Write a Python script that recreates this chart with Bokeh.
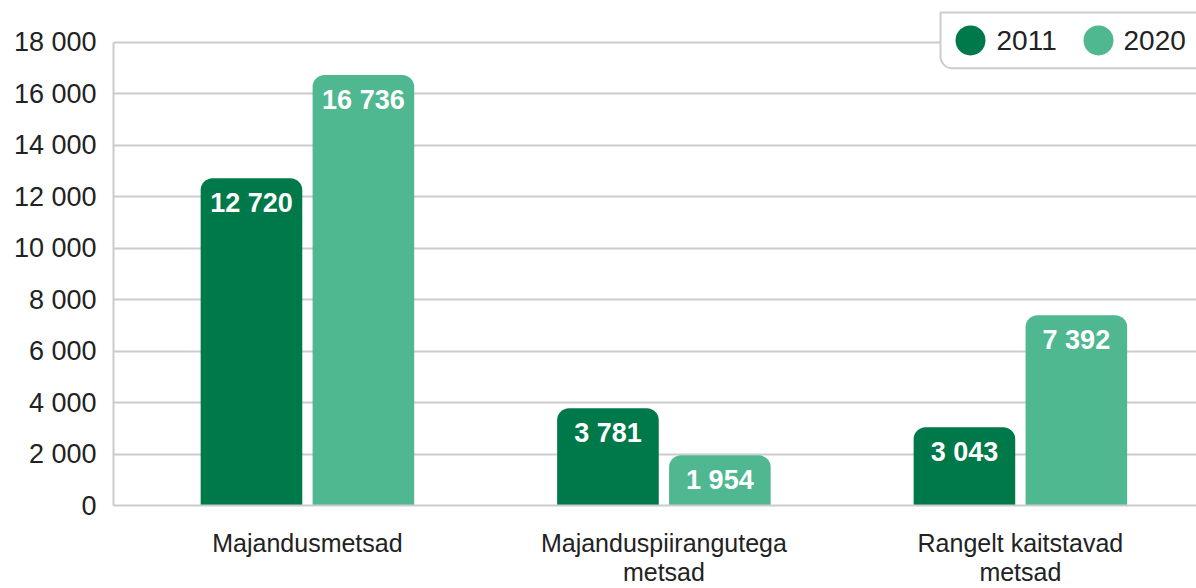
from bokeh.plotting import figure
from bokeh.models import Range1d, FixedTicker, ColumnDataSource
from bokeh.core.properties import value
from bokeh.embed import file_html
from bokeh.resources import INLINE

categories = ["Majandusmetsad", "Majanduspiirangutega\nmetsad", "Rangelt kaitstavad\nmetsad"]
years = ["2011", "2020"]
values_2011 = [12720, 3781, 3043]
values_2020 = [16736, 1954, 7392]
y_ticks = [0, 2000, 4000, 6000, 8000, 10000, 12000, 14000, 16000, 18000]
y_tick_labels = ["0", "2 000", "4 000", "6 000", "8 000", "10 000", "12 000", "14 000", "16 000", "18 000"]

COLOR_2011 = "#00794A"
COLOR_2020 = "#50B891"
TEXT = "#222222"
GRID = "#cccccc"
FONT = "Liberation Sans"

def fmt(v):
    return f"{v:,}".replace(",", " ")

idx = list(range(len(categories)))
off = 0.157
src11 = ColumnDataSource(dict(x=[i - off for i in idx], top=values_2011, lab=[fmt(v) for v in values_2011]))
src20 = ColumnDataSource(dict(x=[i + off for i in idx], top=values_2020, lab=[fmt(v) for v in values_2020]))

p = figure(width=1196, height=588, x_range=Range1d(-0.544, 2.494), y_range=Range1d(0, 19629),
           output_backend="svg", toolbar_location=None,
           min_border_left=113, min_border_right=0, min_border_top=0, min_border_bottom=82)
p.outline_line_color = None
p.background_fill_color = "white"
p.border_fill_color = "white"

# x axis
p.xaxis.ticker = FixedTicker(ticks=idx)
p.xaxis.major_label_overrides = {i: c for i, c in zip(idx, categories)}
p.xaxis.major_tick_in = 0
p.xaxis.major_tick_out = 0
p.xaxis.minor_tick_in = 0
p.xaxis.minor_tick_out = 0
p.xaxis.axis_line_color = GRID
p.xaxis.axis_line_width = 2
p.xaxis.major_label_text_font = FONT
p.xaxis.major_label_text_font_size = "25px"
p.xaxis.major_label_text_color = TEXT
p.xaxis.major_label_standoff = 23
p.xaxis.major_label_text_line_height = 1.05

# y axis
p.yaxis.ticker = FixedTicker(ticks=y_ticks)
p.yaxis.major_label_overrides = {t: l for t, l in zip(y_ticks, y_tick_labels)}
p.yaxis.bounds = (0, 18000)
p.yaxis.major_tick_in = 0
p.yaxis.major_tick_out = 0
p.yaxis.minor_tick_in = 0
p.yaxis.minor_tick_out = 0
p.yaxis.axis_line_color = GRID
p.yaxis.axis_line_width = 2
p.yaxis.major_label_text_font = FONT
p.yaxis.major_label_text_font_size = "27px"
p.yaxis.major_label_text_color = TEXT
p.yaxis.major_label_standoff = 17

p.xgrid.grid_line_color = None
p.ygrid.ticker = FixedTicker(ticks=y_ticks)
p.ygrid.grid_line_color = GRID
p.ygrid.grid_line_width = 2

# bars
for src, col in ((src11, COLOR_2011), (src20, COLOR_2020)):
    p.vbar(x="x", top="top", bottom=0, width=0.285, source=src, fill_color=col,
           line_color=None, border_radius=(12, 12, 0, 0))
    p.text(x="x", y="top", text="lab", source=src, text_color="white",
           text_font=value(FONT), text_font_style="bold", text_font_size="27px",
           text_align="center", text_baseline="top", y_offset=10)

# legend (in pixel coordinates)
p.extra_x_ranges = {"px": Range1d(113, 1196)}
p.extra_y_ranges = {"py": Range1d(-506, 0)}
p.quad(left=[940], right=[1230], top=[-12], bottom=[-68], x_range_name="px", y_range_name="py",
       fill_color="white", line_color=GRID, line_width=2, border_radius=(0, 0, 0, 12))
p.scatter(x=[970, 1098], y=[-40, -40], size=30, fill_color=[COLOR_2011, COLOR_2020],
          line_color=None, x_range_name="px", y_range_name="py")
p.text(x=[996, 1123], y=[-40, -40], text=years, text_color=TEXT, text_font=value(FONT),
       text_font_size="28px", text_align="left", text_baseline="middle",
       x_range_name="px", y_range_name="py")

open("out.html", "w").write(file_html(p, INLINE))
